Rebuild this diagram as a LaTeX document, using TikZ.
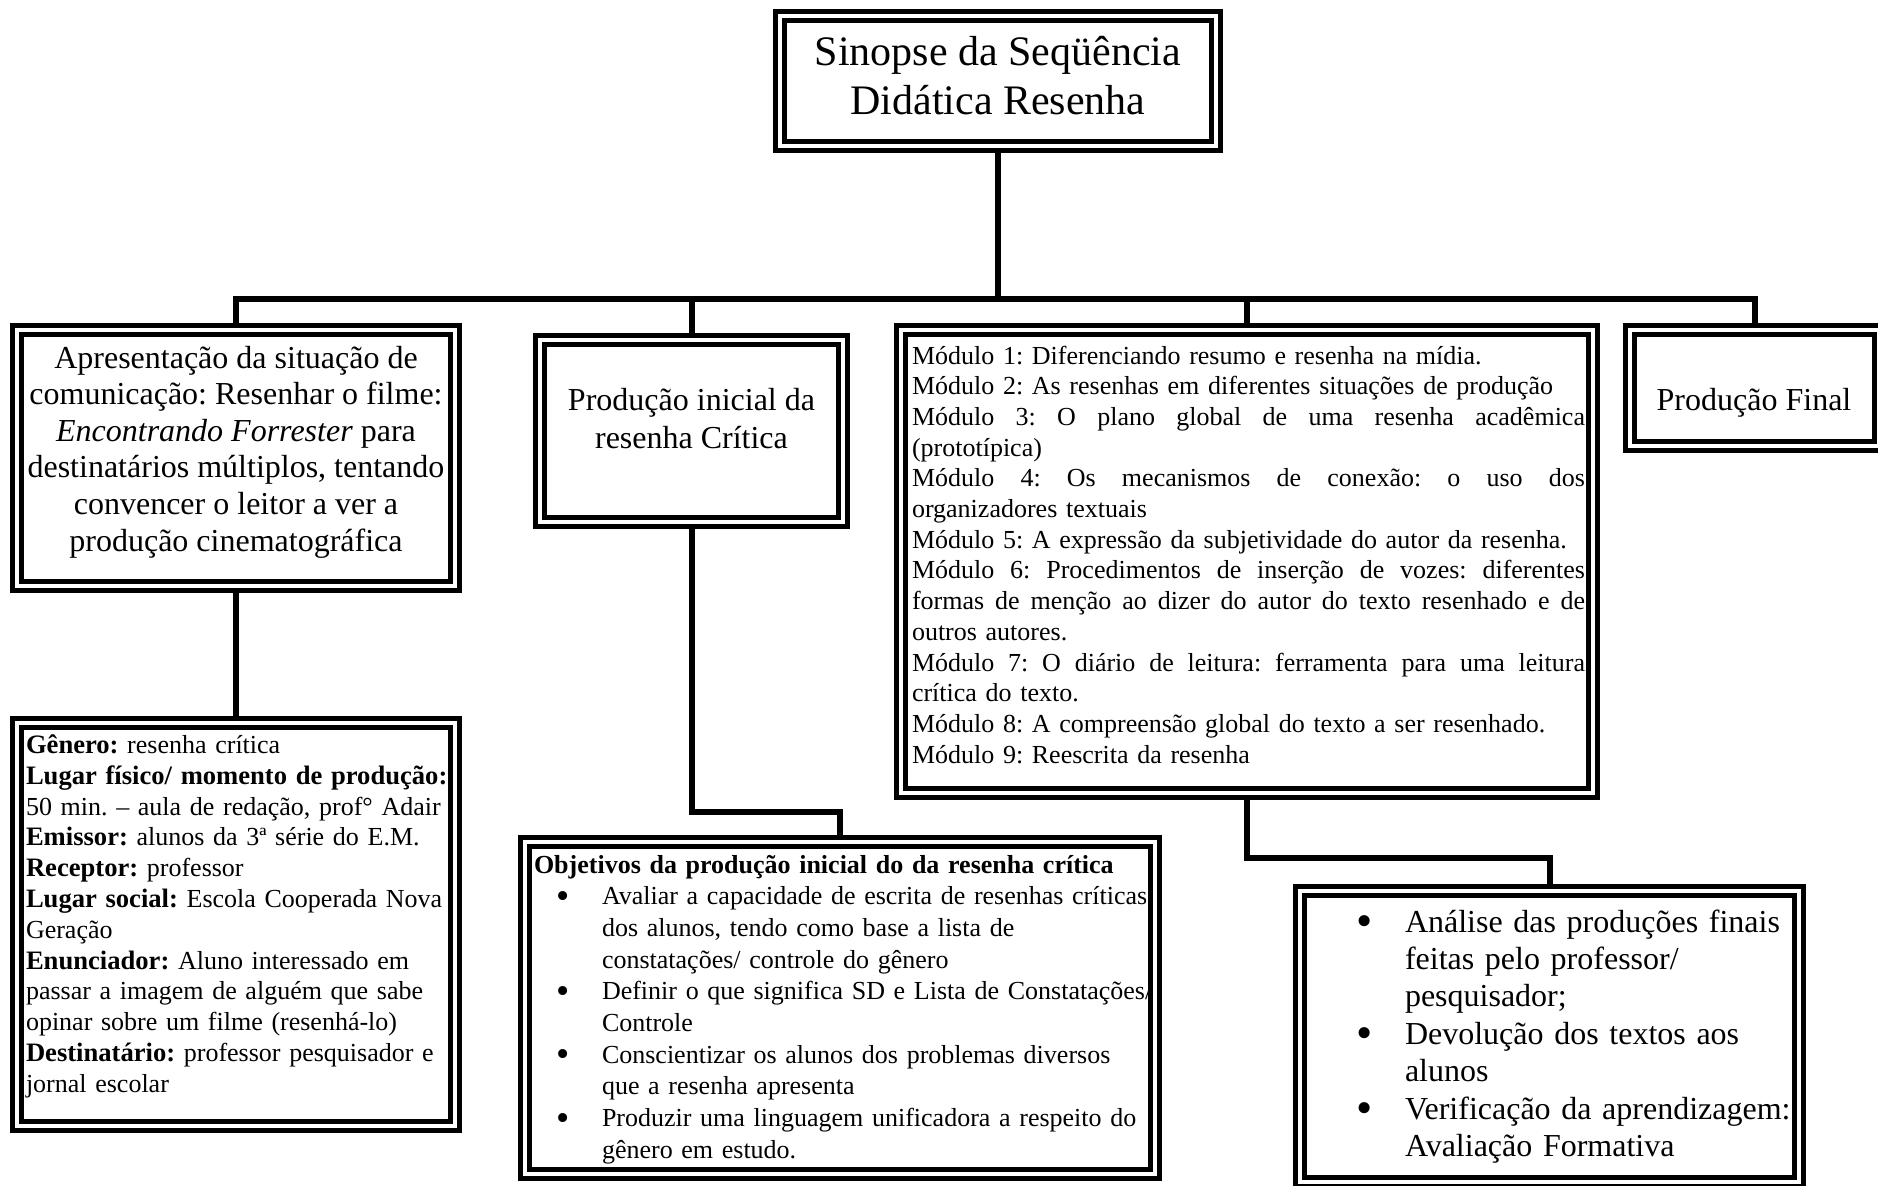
\documentclass[tikz,border=0pt]{standalone}
\usepackage{fontspec}
\setmainfont{Liberation Serif}
\usetikzlibrary{backgrounds}
\frenchspacing
\newlength\px
\setlength\px{0.5pt}
\newcommand\dframe[5]{\node[dblbox, minimum width={(#4-#2-14)*0.5pt}, minimum height={(#5-#3-14)*0.5pt}] (#1) at ({(#2+#4)/2},{(#3+#5)/2}) {};}
\newcommand\bul[2]{\makebox[#2\px][l]{\hspace*{#1\px}\makebox[0pt]{\raisebox{-0.13em}{\scalebox{1.45}{\textbullet}}}}}
\newcommand\jline[1]{\leavevmode\hbox to 673\px{\spaceskip=\fontdimen2\font plus 1fil\relax #1}}
\newcommand\gb[1]{{\fontsize{13.3pt}{15.4pt}\selectfont\bfseries #1}}
\newcommand\fststrut{\rule{0pt}{1em}}
\tikzset{
  dblbox/.style={draw, double, line width=2.5pt, double distance=2pt, fill=white, inner sep=0pt, rectangle},
  conn/.style={line width=3pt},
  lbl/.style={inner sep=0pt, outer sep=0pt},
}
\begin{document}
\begin{tikzpicture}[x=0.5pt,y=-0.5pt]
\useasboundingbox (0,0) rectangle (1878,1185);
\clip (0,0) rectangle (1878,1185);
% frames
\dframe{T}{773}{9}{1223}{153}
\dframe{A}{10}{323}{462}{593}
\dframe{B}{533}{333}{850}{529}
\dframe{M}{894}{323}{1600}{800}
\dframe{F}{1623}{323}{1886}{453}
\dframe{G}{10}{716}{462}{1133}
\dframe{O}{518}{835}{1162}{1181}
\dframe{P}{1293}{884}{1806}{1189}
% connectors
\coordinate (busY) at (0,299);
\coordinate (boY) at (0,812);
\coordinate (mpY) at (0,858);
\begin{pgfonlayer}{background}
\draw[conn] (T.south) -- (T.south |- busY);
\draw[conn] (A.north) -- (A.north |- busY) -- (F.north |- busY) -- (F.north);
\draw[conn] (B.north) -- (B.north |- busY);
\draw[conn] (M.north) -- (M.north |- busY);
\draw[conn] (A.south) -- (G.north);
\draw[conn] (B.south) -- (B.south |- boY) -- (O.north |- boY) -- (O.north);
\draw[conn] (M.south) -- (M.south |- mpY) -- (P.north |- mpY) -- (P.north);
\end{pgfonlayer}
% texts
\node[lbl, anchor=north, align=center, font={\fontsize{21pt}{24.5pt}\selectfont}] (tT) at (998,23)
  {\fststrut Sinopse da Seqüência\\Didática Resenha};
\node[lbl, anchor=north, align=center, font={\fontsize{16pt}{18.3pt}\selectfont}] (tA) at (236,336)
  {\fststrut Apresentação da situação de\\comunicação: Resenhar o filme:\\\textit{Encontrando Forrester} para\\destinatários múltiplos, tentando\\convencer o leitor a ver a\\produção cinematográfica};
\node[lbl, anchor=north, align=center, font={\fontsize{16pt}{19pt}\selectfont}] (tB) at (691.5,378)
  {\fststrut Produção inicial da\\resenha Crítica};
\node[lbl, anchor=north, align=center, font={\fontsize{16pt}{18.3pt}\selectfont}] (tF) at (1754,378)
  {\fststrut Produção Final};
\node[lbl, anchor=north west, align=left, text width=340pt, font={\fontsize{13pt}{15.35pt}\selectfont}] (tM) at (912,338)
  {\fststrut Módulo 1: Diferenciando resumo e resenha na mídia.\\
   Módulo 2: As resenhas em diferentes situações de produção\\
   \jline{Módulo 3: O plano global de uma resenha acadêmica}\\
   (prototípica)\\
   \jline{Módulo 4: Os mecanismos de conexão: o uso dos}\\
   organizadores textuais\\
   Módulo 5: A expressão da subjetividade do autor da resenha.\\
   \jline{Módulo 6: Procedimentos de inserção de vozes: diferentes}\\
   \jline{formas de menção ao dizer do autor do texto resenhado e de}\\
   outros autores.\\
   \jline{Módulo 7: O diário de leitura: ferramenta para uma leitura}\\
   crítica do texto.\\
   Módulo 8: A compreensão global do texto a ser resenhado.\\
   Módulo 9: Reescrita da resenha};
\node[lbl, anchor=north west, align=left, text width=225pt, font={\fontsize{13pt}{15.4pt}\selectfont}] (tG) at (26,727.4)
  {\fststrut\gb{Gênero:} resenha crítica\\
   \gb{Lugar físico/ momento de produção:}\\
   50 min. – aula de redação, prof° Adair\\
   \gb{Emissor:} alunos da 3ª série do E.M.\\
   \gb{Receptor:} professor\\
   \gb{Lugar social:} Escola Cooperada Nova\\
   Geração\\
   \gb{Enunciador:} Aluno interessado em\\
   passar a imagem de alguém que sabe\\
   opinar sobre um filme (resenhá-lo)\\
   \gb{Destinatário:} professor pesquisador e\\
   jornal escolar};
\node[lbl, anchor=north west, align=left, text width=330pt, font={\fontsize{13pt}{15.85pt}\selectfont}] (tO) at (534,847)
  {\fststrut\textbf{Objetivos da produção inicial do da resenha crítica}\\
   \bul{29}{68}Avaliar a capacidade de escrita de resenhas críticas\\
   \hspace*{68\px}dos alunos, tendo como base a lista de\\
   \hspace*{68\px}constatações/ controle do gênero\\
   \bul{29}{68}Definir o que significa SD e Lista de Constatações/\\
   \hspace*{68\px}Controle\\
   \bul{29}{68}Conscientizar os alunos dos problemas diversos\\
   \hspace*{68\px}que a resenha apresenta\\
   \bul{29}{68}Produzir uma linguagem unificadora a respeito do\\
   \hspace*{68\px}gênero em estudo.};
\node[lbl, anchor=north west, align=left, text width=240pt, font={\fontsize{16pt}{18.7pt}\selectfont}] (tP) at (1340,900)
  {\fststrut\bul{25}{65}Análise das produções finais\\
   \hspace*{65\px}feitas pelo professor/\\
   \hspace*{65\px}pesquisador;\\
   \bul{25}{65}Devolução dos textos aos\\
   \hspace*{65\px}alunos\\
   \bul{25}{65}Verificação da aprendizagem:\\
   \hspace*{65\px}Avaliação Formativa};
\end{tikzpicture}
\end{document}
